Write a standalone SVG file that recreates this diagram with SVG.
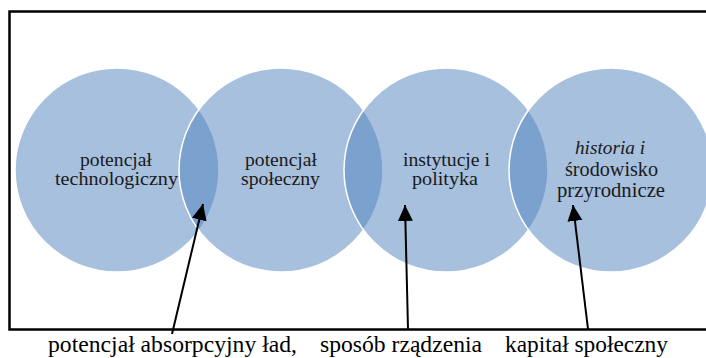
<svg xmlns="http://www.w3.org/2000/svg" width="706" height="358" viewBox="0 0 706 358">
<style>
.c{fill:#4F81BD;fill-opacity:.5;stroke:#fff;stroke-width:1.5}
text{font-family:'Liberation Serif','Times New Roman','DejaVu Serif',serif}
.t{font-size:18px;fill:#1a1a1a}
.t4{font-size:20px;fill:#1a1a1a}
.l{font-size:24px;fill:#000}
.a{stroke:#000;stroke-width:2;fill:none;marker-end:url(#ah)}
</style>
<defs>
<marker id="ah" markerUnits="userSpaceOnUse" markerWidth="16" markerHeight="16" viewBox="0 0 16 16" refX="16" refY="8" orient="auto"><path d="M0,0.5 L16,8 L0,15.5 z" fill="#000"/></marker>
</defs>
<rect width="706" height="358" fill="#fff"/>
<g id="node1"><circle class="c" cx="117" cy="170" r="102"/>
<text class="t" x="80" y="166" textLength="72" lengthAdjust="spacingAndGlyphs">potencjał</text>
<text class="t" x="55" y="185" textLength="123" lengthAdjust="spacingAndGlyphs">technologiczny</text></g>
<g id="node2"><circle class="c" cx="281" cy="170" r="102"/>
<text class="t" x="245" y="166" textLength="72" lengthAdjust="spacingAndGlyphs">potencjał</text>
<text class="t" x="241" y="185" textLength="79" lengthAdjust="spacingAndGlyphs">społeczny</text></g>
<g id="node3"><circle class="c" cx="446" cy="170" r="102"/>
<text class="t" x="403" y="166" textLength="87" lengthAdjust="spacingAndGlyphs">instytucje i</text>
<text class="t" x="412" y="185" textLength="66" lengthAdjust="spacingAndGlyphs">polityka</text></g>
<g id="node4"><circle class="c" cx="611" cy="170" r="102"/>
<text class="t" x="575" y="154" font-style="italic" textLength="70" lengthAdjust="spacingAndGlyphs">historia i</text>
<text class="t4" x="565" y="176" textLength="93" lengthAdjust="spacingAndGlyphs">środowisko</text>
<text class="t4" x="557" y="197" textLength="108" lengthAdjust="spacingAndGlyphs">przyrodnicze</text></g>
<rect x="9.5" y="11.5" width="720" height="318" fill="none" stroke="#000" stroke-width="2.5"/>
<g id="connectors">
<line class="a" x1="172" y1="334" x2="203" y2="204"/>
<line class="a" x1="408" y1="329" x2="405" y2="205"/>
<line class="a" x1="588" y1="329" x2="573" y2="205"/>
</g>
<g id="labels">
<text class="l" x="48" y="352" textLength="249" lengthAdjust="spacingAndGlyphs">potencjał absorpcyjny ład,</text>
<text class="l" x="320" y="352" textLength="162" lengthAdjust="spacingAndGlyphs">sposób rządzenia</text>
<text class="l" x="505" y="352" textLength="163" lengthAdjust="spacingAndGlyphs">kapitał społeczny</text>
</g>
</svg>
